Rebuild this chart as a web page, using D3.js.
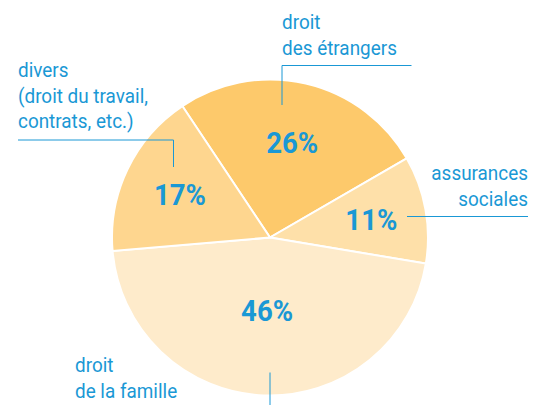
<!DOCTYPE html>
<html>
<head>
<meta charset="utf-8">
<script src="https://cdn.jsdelivr.net/npm/d3@7"></script>
<style>
  body { margin: 0; background: #fff; }
  svg text { font-family: Roboto, "DejaVu Sans Condensed", sans-serif; fill: #1a98d5; }
</style>
</head>
<body>
<div></div>
<script>
var categories = ["droit des étrangers", "assurances sociales", "droit de la famille", "divers"];
var values = [26, 11, 46, 17];
var pctLabels = ["26%", "11%", "46%", "17%"];
var labelLines = [
  ["droit", "des étrangers"],
  ["assurances", "sociales"],
  ["droit", "de la famille"],
  ["divers", "(droit du travail,", "contrats, etc.)"]
];
var colors = ["#fdc96b", "#fee0a9", "#feebcb", "#fed68f"];

var width = 538,
    height = 405;
var cx = 270, cy = 237.5, radius = 158;

var svg = d3.select("div")
    .append("svg")
    .attr("width", width)
    .attr("height", height);

// the original uses a condensed face; squeeze the installed one to the same widths
function squeeze(sample, size, weight, target) {
    var t = svg.append("text").attr("font-size", size).attr("font-weight", weight).text(sample);
    var w = t.node().getComputedTextLength();
    t.remove();
    return target / w;
}
var sxPct = squeeze("26%", 30, "bold", 52);
var sxLab = squeeze("des étrangers", 21, "normal", 115);

var pie = d3.pie()
    .sort(null)
    .startAngle(-33.7 * Math.PI / 180)
    .endAngle((360 - 33.7) * Math.PI / 180);

var arc = d3.arc()
    .innerRadius(0)
    .outerRadius(radius);

var g = svg.append("g")
    .attr("transform", "translate(" + cx + "," + cy + ")");

var arcs = pie(values);

g.selectAll("path")
    .data(arcs)
    .enter()
    .append("path")
    .attr("d", arc)
    .attr("fill", function (d, i) { return colors[i]; })
    .attr("stroke", "#fff")
    .attr("stroke-width", 2);

// percentage labels, pushed along each slice's mid angle
var labelR = [98, 103, 73, 100];
g.selectAll("text.pct")
    .data(arcs)
    .enter()
    .append("text")
    .attr("class", "pct")
    .attr("text-anchor", "middle")
    .attr("font-weight", "bold")
    .attr("font-size", 30)
    .attr("transform", function (d, i) {
        var c = d3.arc().innerRadius(labelR[i]).outerRadius(labelR[i]).centroid(d);
        return "translate(" + c[0] + "," + (c[1] + 11) + ") scale(" + sxPct + ",1)";
    })
    .text(function (d, i) { return pctLabels[i]; });

// category labels with leader lines
var labelPos = [
  { x: 282, y: 29, anchor: "start" },
  { x: 528, y: 180, anchor: "end" },
  { x: 75, y: 372, anchor: "start" },
  { x: 18, y: 77, anchor: "start" }
];
var leaders = [
  [[411.5, 65.5], [282, 65.5], [282, 105]],
  [[528, 216.5], [407, 216.5]],
  [[270, 372.5], [270, 405]],
  [[18, 140], [173.5, 140], [173.5, 167]]
];
var lineH = [26.5, 26.5, 26.5, 25.7];

labelLines.forEach(function (lines, i) {
    var t = svg.append("text")
        .attr("transform", "translate(" + labelPos[i].x + "," + labelPos[i].y + ") scale(" + sxLab + ",1)")
        .attr("text-anchor", labelPos[i].anchor)
        .attr("font-size", 21);
    lines.forEach(function (s, j) {
        t.append("tspan")
            .attr("x", 0)
            .attr("y", j * lineH[i])
            .text(s);
    });
    svg.append("path")
        .attr("d", d3.line()(leaders[i]))
        .attr("fill", "none")
        .attr("stroke", "#1a98d5")
        .attr("stroke-width", 1);
});
</script>
</body>
</html>
